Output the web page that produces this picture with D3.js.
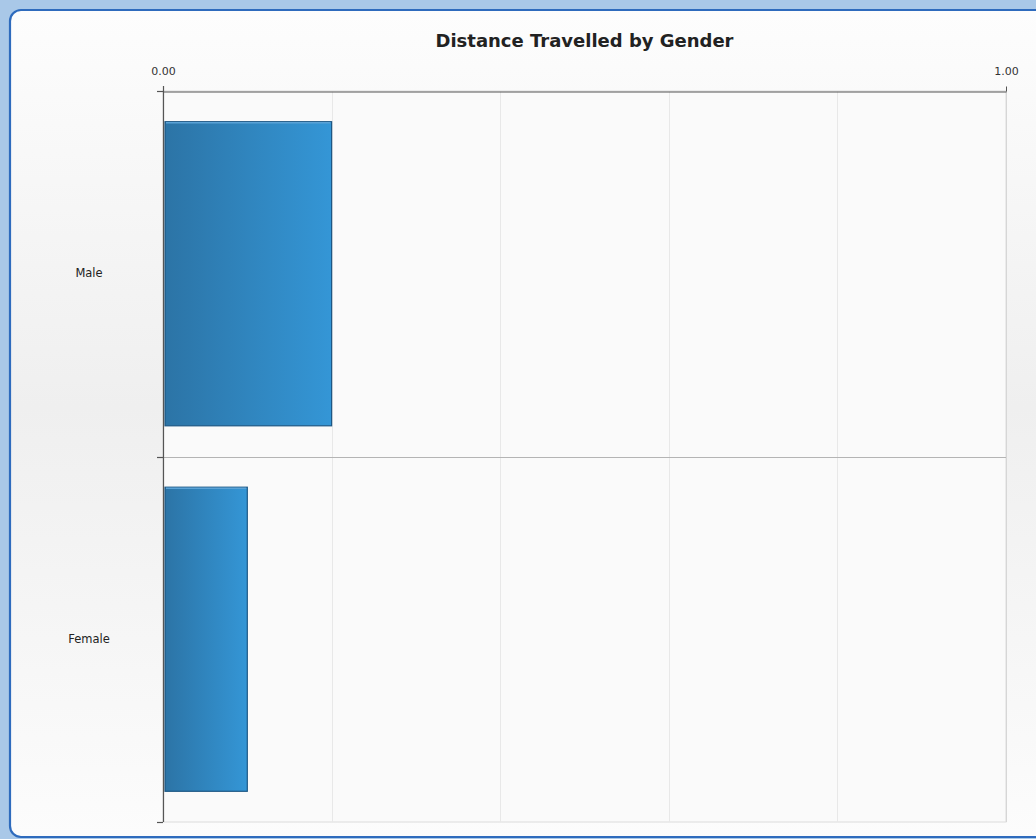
<!DOCTYPE html>
<html>
<head>
<meta charset="utf-8">
<script src="https://cdn.jsdelivr.net/npm/d3@7"></script>
<style>
  html, body { margin: 0; padding: 0; background: #a9c8e8; }
  svg { display: block; }
</style>
</head>
<body>
<svg id="chart" width="1036" height="839"></svg>
<script>
// Chart data
const categories = ["Male", "Female"];
const distances = [0.2, 0.1];
const tickValues = [0, 1];
const gridValues = [0.2, 0.4, 0.6, 0.8, 1.0];
const chartTitle = "Distance Travelled by Gender";

const svg = d3.select("#chart");
const W = 1036, H = 839;

const defs = svg.append("defs");

// Panel background: subtle vertical sheen
const bgGrad = defs.append("linearGradient")
  .attr("id", "panelBg").attr("x1", 0).attr("y1", 0).attr("x2", 0).attr("y2", 1);
bgGrad.append("stop").attr("offset", "0%").attr("stop-color", "#fdfdfd");
bgGrad.append("stop").attr("offset", "48%").attr("stop-color", "#efefef");
bgGrad.append("stop").attr("offset", "100%").attr("stop-color", "#fcfcfc");

// Bar fill: darker on the left, brighter on the right
const barGrad = defs.append("linearGradient")
  .attr("id", "barFill").attr("x1", 0).attr("y1", 0).attr("x2", 1).attr("y2", 0);
barGrad.append("stop").attr("offset", "0%").attr("stop-color", "#2c74a6");
barGrad.append("stop").attr("offset", "100%").attr("stop-color", "#3496d6");

// Outer frame
svg.append("rect").attr("x", 0).attr("y", 0).attr("width", W).attr("height", H)
  .attr("fill", "#a9c8e8");
svg.append("rect")
  .attr("x", 10).attr("y", 10).attr("width", W + 4).attr("height", H - 12)
  .attr("rx", 11).attr("ry", 11)
  .attr("fill", "url(#panelBg)")
  .attr("stroke", "#2e6bbd").attr("stroke-width", 2.2);

// Plot geometry
const margin = { left: 163, right: 1006, top: 91, bottom: 822 };

const x = d3.scaleLinear().domain([0, 1]).range([margin.left, margin.right]);
const y = d3.scaleBand().domain(categories).range([margin.top, margin.bottom]).padding(0);
const barInset = 0.084;

// Plot area background
svg.append("rect")
  .attr("x", margin.left).attr("y", margin.top)
  .attr("width", margin.right - margin.left).attr("height", margin.bottom - margin.top)
  .attr("fill", "#fafafa")
  .attr("stroke", "#dcdcdc").attr("stroke-width", 1);

// Vertical gridlines
svg.append("g").selectAll("line").data(gridValues).join("line")
  .attr("x1", d => Math.round(x(d)) + 0.5).attr("x2", d => Math.round(x(d)) + 0.5)
  .attr("y1", margin.top).attr("y2", margin.bottom)
  .attr("stroke", d => d === 1 ? "#d6d6d6" : "#e8e8e8").attr("stroke-width", 1);

// Category separators
svg.append("g").selectAll("line").data(categories.slice(1)).join("line")
  .attr("x1", margin.left).attr("x2", margin.right)
  .attr("y1", d => Math.round(y(d)) + 0.5).attr("y2", d => Math.round(y(d)) + 0.5)
  .attr("stroke", "#b4b4b4").attr("stroke-width", 1);

// Bars
const bars = svg.append("g");
categories.forEach((c, i) => {
  const by = y(c) + y.bandwidth() * barInset;
  const bh = y.bandwidth() * (1 - 2 * barInset);
  const bx = x(0) + 2;
  const bw = x(distances[i]) - bx;
  bars.append("rect")
    .attr("x", bx).attr("y", by).attr("width", bw).attr("height", bh)
    .attr("fill", "url(#barFill)")
    .attr("stroke", "#1d5784").attr("stroke-width", 1.2);
  bars.append("line")
    .attr("x1", bx + 1).attr("x2", bx + bw - 1)
    .attr("y1", by + 1).attr("y2", by + 1)
    .attr("stroke", "#5aa2d6").attr("stroke-width", 1.4);
});

// Top value axis
const xAxis = d3.axisTop(x).tickValues(tickValues).tickFormat(d3.format(".2f"))
  .tickSizeInner(5).tickSizeOuter(0);
const gx = svg.append("g").attr("transform", `translate(0,${margin.top + 0.5})`).call(xAxis);
gx.select(".domain").attr("stroke", "#555");
gx.selectAll(".tick line").attr("stroke", "#555");
gx.selectAll(".tick text")
  .attr("font-family", "Verdana, 'DejaVu Sans', sans-serif").attr("font-size", 11)
  .attr("fill", "#333").attr("dy", "-9");

// Left category axis with ticks at band boundaries
const leftBounds = [margin.top, ...categories.slice(1).map(c => y(c)), margin.bottom];
svg.append("line")
  .attr("x1", margin.left + 0.5).attr("x2", margin.left + 0.5)
  .attr("y1", margin.top - 5).attr("y2", margin.bottom)
  .attr("stroke", "#555").attr("stroke-width", 1.2);
svg.append("g").selectAll("line").data(leftBounds).join("line")
  .attr("x1", margin.left - 6).attr("x2", margin.left)
  .attr("y1", d => Math.round(d) + 0.5).attr("y2", d => Math.round(d) + 0.5)
  .attr("stroke", "#555").attr("stroke-width", 1.2);

// Category labels
svg.append("g").selectAll("text").data(categories).join("text")
  .attr("x", 89).attr("y", d => y(d) + y.bandwidth() / 2)
  .attr("text-anchor", "middle").attr("dominant-baseline", "middle")
  .attr("font-family", "Verdana, 'DejaVu Sans', sans-serif").attr("font-size", 11.5)
  .attr("fill", "#222")
  .text(d => d);

// Title
svg.append("text")
  .attr("x", (margin.left + margin.right) / 2).attr("y", 47)
  .attr("text-anchor", "middle")
  .attr("font-family", "'DejaVu Sans', Verdana, sans-serif")
  .attr("font-weight", "bold").attr("font-size", 17)
  .attr("textLength", 298).attr("lengthAdjust", "spacingAndGlyphs")
  .attr("fill", "#222")
  .text(chartTitle);
</script>
</body>
</html>
